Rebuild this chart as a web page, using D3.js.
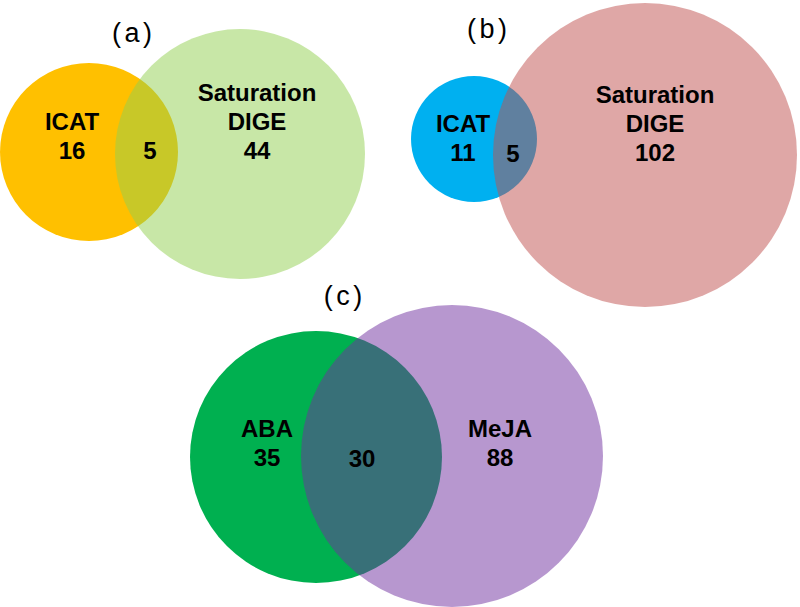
<!DOCTYPE html>
<html>
<head>
<meta charset="utf-8">
<script src="https://cdn.jsdelivr.net/npm/d3@7"></script>
<style>
html,body{margin:0;padding:0;background:#fff;}
svg{display:block;}
</style>
</head>
<body>
<svg id="chart" width="800" height="607"></svg>
<script>
// ---- data ----
const panels = ["(a)", "(b)", "(c)"];
const leftSets = ["ICAT", "ICAT", "ABA"];
const rightSets = [["Saturation", "DIGE"], ["Saturation", "DIGE"], ["MeJA"]];
const leftOnly = [16, 11, 35];
const overlap = [5, 5, 30];
const rightOnly = [44, 102, 88];

// ---- layout (pixels) ----
const layout = [
  {title:[132,42], L:{cx:89,cy:152,r:89}, R:{cx:240,cy:154,r:125},
   lt:[72,130], ov:[150,159], rt:[257,101], lc:"#ffc000", rc:"#92d050"},
  {title:[487,38], L:{cx:474,cy:139,r:63}, R:{cx:645,cy:155,r:152},
   lt:[463,132], ov:[513,162], rt:[655,103], lc:"#00b0f0", rc:"#c0504d"},
  {title:[343,305], L:{cx:316,cy:457,r:126}, R:{cx:452,cy:456,r:151},
   lt:[267,437], ov:[362,467], rt:[500,437], lc:"#00b050", rc:"#7030a0"}
];
const lineH = 29;
const titleSpacing = 3.5;

const svg = d3.select("#chart");
const font = "Arial, 'Liberation Sans', sans-serif";

panels.forEach((p, i) => {
  const g = svg.append("g");
  const lay = layout[i];
  g.append("circle").attr("cx", lay.L.cx).attr("cy", lay.L.cy).attr("r", lay.L.r)
    .attr("fill", lay.lc);
  g.append("circle").attr("cx", lay.R.cx).attr("cy", lay.R.cy).attr("r", lay.R.r)
    .attr("fill", lay.rc).attr("fill-opacity", 0.5);

  g.append("text").attr("x", lay.title[0] + titleSpacing / 2).attr("y", lay.title[1])
    .attr("text-anchor", "middle").attr("font-family", font)
    .attr("letter-spacing", titleSpacing)
    .attr("font-size", 27).attr("fill", "#000").text(p);

  const txt = (x, y, lines) => {
    const t = g.append("text").attr("text-anchor", "middle")
      .attr("font-family", font).attr("font-weight", "bold")
      .attr("font-size", 24).attr("fill", "#000");
    lines.forEach((s, k) => {
      t.append("tspan").attr("x", x).attr("y", y + k * lineH).text(s);
    });
  };
  txt(lay.lt[0], lay.lt[1], [leftSets[i], String(leftOnly[i])]);
  txt(lay.ov[0], lay.ov[1], [String(overlap[i])]);
  txt(lay.rt[0], lay.rt[1], rightSets[i].concat([String(rightOnly[i])]));
});
</script>
</body>
</html>
